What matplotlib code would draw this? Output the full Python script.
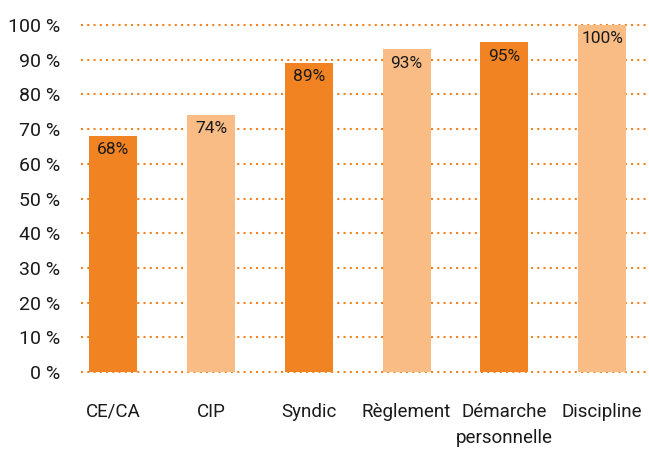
import matplotlib.pyplot as plt
from matplotlib.ticker import FixedLocator

categories = ['CE/CA', 'CIP', 'Syndic', 'Règlement', 'Démarche\npersonnelle', 'Discipline']
values = [68, 74, 89, 93, 95, 100]
value_labels = ['68%', '74%', '89%', '93%', '95%', '100%']
y_ticks = list(range(0, 101, 10))
y_tick_labels = [f'{t} %' for t in y_ticks]

dark_orange = '#F28322'
light_orange = '#F9BC85'
colors = [dark_orange, light_orange, dark_orange, light_orange, dark_orange, light_orange]

plt.rcParams['font.family'] = ['Roboto', 'DejaVu Sans']

fig = plt.figure(figsize=(6.49, 4.51), dpi=100)
ax = fig.add_axes([81 / 649, 1 - 372 / 451, 1 - 81 / 649, (372 - 25) / 451])

x = range(len(categories))
ax.bar(x, values, width=0.49, color=colors, zorder=2)

for xi, v, lab in zip(x, values, value_labels):
    ax.text(xi, v - 1.8, lab, ha='center', va='top', fontsize=12.5, color='#1a1a1a', zorder=3)

ax.set_ylim(0, 100)
ax.set_xlim(-0.33, 5.48)
ax.yaxis.set_major_locator(FixedLocator(y_ticks))
ax.set_yticklabels(y_tick_labels, fontsize=14, color='#1a1a1a')
ax.set_xticks(list(x))
ax.set_xticklabels(categories, fontsize=13.5, color='#1a1a1a', linespacing=1.6, va='top')
ax.tick_params(axis='both', length=0)
ax.tick_params(axis='x', pad=22)
ax.tick_params(axis='y', pad=15)

ax.grid(axis='y', color=dark_orange, linestyle=(0, (1, 2)), linewidth=1.5, zorder=1)
ax.set_axisbelow(True)
for gl in ax.yaxis.get_gridlines():
    gl.set_clip_on(False)
for s in ax.spines.values():
    s.set_visible(False)

fig.savefig('out.png', dpi=100)
